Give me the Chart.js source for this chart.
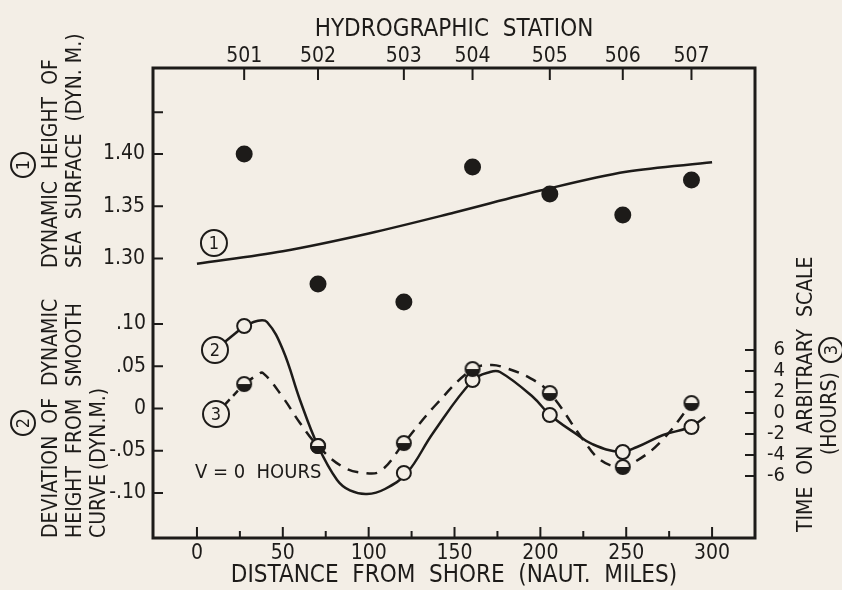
<!DOCTYPE html>
<html><head><meta charset="utf-8">
<script src="https://cdn.jsdelivr.net/npm/chart.js@4/dist/chart.umd.min.js"></script>
<style>html,body{margin:0;padding:0;background:#f3eee6;}#wrap{width:842px;height:590px;}</style>
</head><body><div id="wrap"><canvas id="c" width="842" height="590"></canvas></div>
<script>
// ---- data ----
const stations = ['501','502','503','504','505','506','507'];
const stationDistance = [27.5, 70.5, 120.5, 160.5, 205.5, 248, 288];
// (1) dynamic height of sea surface at the stations
const dynamicHeight = [1.400, 1.2756, 1.2584, 1.3876, 1.3617, 1.3416, 1.3751];
// (1) smooth curve
const smoothDistance = [0, 50, 100, 150, 200, 250, 300];
const smoothHeight = [1.295, 1.307, 1.324, 1.344, 1.365, 1.383, 1.392];
// (2) deviation from smooth curve at the stations
const deviation = [0.0976, -0.0444, -0.0763, 0.0337, -0.0077, -0.0515, -0.0219];
// (2) drawn curve
const devCurveDistance = [28, 35, 40.8, 50.1, 60, 70.5, 81.6, 89.1, 99, 109.5, 122.3, 137.5, 160.8, 170.7, 176.5, 195.7, 205.6, 220, 230, 246.4, 256.3, 271.5, 287.2, 296];
const devCurveValue = [0.0976, 0.1036, 0.1024, 0.0692, 0.0101, -0.0444, -0.0846, -0.0970, -0.1012, -0.0953, -0.0763, -0.029, 0.0337, 0.0432, 0.0432, 0.0136, -0.0077, -0.0290, -0.0420, -0.0515, -0.0456, -0.0314, -0.0219, -0.0101];
// (3) time on arbitrary scale at the stations
const timeHours = [2.76, -3.14, -2.86, 4.19, 1.90, -5.14, 0.95];
// (3) drawn dashed curve
const timeCurveDistance = [27.5, 35, 38.5, 50, 60, 70.5, 85, 97, 107, 120.5, 139, 160.5, 171, 178, 194, 205.5, 225, 235, 246, 254, 270, 288, 292];
const timeCurveHours = [2.76, 3.6, 3.8, 1.5, -0.95, -3.14, -5.14, -5.71, -5.52, -2.86, 0.76, 4.19, 4.57, 4.38, 3.33, 1.90, -2.57, -4.48, -5.14, -4.76, -2.76, 0.95, 2.0];
// ticks
const distanceTicks = [0, 50, 100, 150, 200, 250, 300];
const distanceMinorTicks = [25, 75, 125, 175, 225, 275];
const heightTicks = [1.30, 1.35, 1.40];
const heightTickLabels = ['1.30', '1.35', '1.40'];
const heightMinorTicks = [1.44];
const deviationTicks = [0.10, 0.05, 0, -0.05, -0.10];
const deviationTickLabels = ['.10', '.05', '0', '-.05', '-.10'];
const hourTicks = [6, 4, 2, 0, -2, -4, -6];
const hourTickLabels = ['6', '4', '2', '0', '-2', '-4', '-6'];

// ---- styles ----
const INK = '#1d1b19';
const BG = '#f3eee6';
const FAM = "'DejaVu Sans Condensed','DejaVu Sans',sans-serif";

function halfFilled(r) {
  const s = Math.ceil(r * 2 + 4);
  const cv = document.createElement('canvas');
  cv.width = s; cv.height = s;
  const g = cv.getContext('2d');
  const c = s / 2;
  g.fillStyle = BG;
  g.beginPath(); g.arc(c, c, r, 0, Math.PI * 2); g.fill();
  g.fillStyle = INK;
  g.beginPath(); g.arc(c, c, r, 0, Math.PI); g.closePath(); g.fill();
  g.strokeStyle = INK; g.lineWidth = 2;
  g.beginPath(); g.arc(c, c, r, 0, Math.PI * 2); g.stroke();
  return cv;
}

const pts = (xs, ys) => xs.map((x, i) => ({x: x, y: ys[i]}));

const annotations = {
  circled: [
    {text: '1', x: 9.9, y: 1.3148, axis: 'y1'},
    {text: '2', x: 10.5, y: 0.0692, axis: 'y2', leaderTo: 0, leaderAxis: 'y2', leaderData: deviation, dash: []},
    {text: '3', x: 11.1, y: -0.1, axis: 'y3', leaderTo: 0, leaderAxis: 'y3', leaderData: timeHours, dash: [7, 5]}
  ],
  text: [{text: 'V = 0  HOURS', x: -1.2, y: -5.7, axis: 'y3'}]
};

function rotText(ctx, text, x, y, font) {
  ctx.save();
  ctx.translate(x, y);
  ctx.rotate(-Math.PI / 2);
  ctx.font = font;
  ctx.textAlign = 'left';
  ctx.textBaseline = 'middle';
  ctx.fillText(text, 0, 0);
  ctx.restore();
}
function circled(ctx, text, x, y, r, rotate) {
  ctx.save();
  ctx.translate(x, y);
  if (rotate) ctx.rotate(-Math.PI / 2);
  ctx.lineWidth = 2;
  ctx.strokeStyle = INK;
  ctx.beginPath(); ctx.arc(0, 0, r, 0, Math.PI * 2); ctx.stroke();
  ctx.font = "18px " + FAM;
  ctx.textAlign = 'center'; ctx.textBaseline = 'middle';
  ctx.fillText(text, 0, 1);
  ctx.restore();
}

const decor = {
  id: 'decor',
  beforeDraw(chart) {
    const ctx = chart.ctx;
    ctx.save(); ctx.fillStyle = BG; ctx.fillRect(0, 0, chart.width, chart.height); ctx.restore();
  },
  afterDraw(chart) {
    const ctx = chart.ctx;
    const a = chart.chartArea;
    const s = chart.scales;
    ctx.save();
    ctx.strokeStyle = INK; ctx.fillStyle = INK;
    // frame
    ctx.lineWidth = 3;
    ctx.strokeRect(a.left, a.top, a.right - a.left, a.bottom - a.top);
    // inward ticks
    ctx.lineWidth = 2;
    ctx.beginPath();
    s.x.ticks.forEach(t => {
      const p = s.x.getPixelForValue(t.value);
      const len = distanceTicks.includes(t.value) ? 11 : 7;
      ctx.moveTo(p, a.bottom); ctx.lineTo(p, a.bottom - len);
    });
    s.x2.ticks.forEach(t => {
      const p = s.x2.getPixelForValue(t.value);
      ctx.moveTo(p, a.top); ctx.lineTo(p, a.top + 12);
    });
    ['y1', 'y2'].forEach(id => s[id].ticks.forEach(t => {
      const p = s[id].getPixelForValue(t.value);
      ctx.moveTo(a.left, p); ctx.lineTo(a.left + 10, p);
    }));
    s.y3.ticks.forEach(t => {
      const p = s.y3.getPixelForValue(t.value);
      ctx.moveTo(a.right, p); ctx.lineTo(a.right - 10, p);
    });
    ctx.stroke();

    // rotated axis titles
    const f = "21px " + FAM;
    circled(ctx, '1', 23, 165, 12, true);
    rotText(ctx, 'DYNAMIC  HEIGHT  OF', 52, 268, f);
    rotText(ctx, 'SEA  SURFACE  (DYN. M.)', 76, 268, f);
    circled(ctx, '2', 23, 423, 12, true);
    rotText(ctx, 'DEVIATION  OF  DYNAMIC', 52, 538, f);
    rotText(ctx, 'HEIGHT  FROM  SMOOTH', 76, 538, f);
    rotText(ctx, 'CURVE', 100, 538, f);
    rotText(ctx, '(DYN.M.)', 100, 470, f);
    rotText(ctx, 'TIME  ON  ARBITRARY  SCALE', 807, 532, f);
    rotText(ctx, '(HOURS)', 831, 455, f);
    circled(ctx, '3', 831, 350, 12, true);

    // in-plot labels
    annotations.circled.forEach(c => {
      const cx = s.x.getPixelForValue(c.x), cy = s[c.axis].getPixelForValue(c.y);
      circled(ctx, c.text, cx, cy, 13, false);
      if (c.leaderData) {
        const tx = s.x.getPixelForValue(stationDistance[c.leaderTo]);
        const ty = s[c.leaderAxis].getPixelForValue(c.leaderData[c.leaderTo]);
        const dx = tx - cx, dy = ty - cy, d = Math.hypot(dx, dy);
        ctx.save();
        ctx.lineWidth = 2.5; ctx.setLineDash(c.dash);
        ctx.beginPath();
        ctx.moveTo(cx + dx / d * 13, cy + dy / d * 13);
        ctx.lineTo(tx - dx / d * 7, ty - dy / d * 7);
        ctx.stroke();
        ctx.restore();
      }
    });
    annotations.text.forEach(t => {
      ctx.font = "20px " + FAM;
      ctx.textAlign = 'left'; ctx.textBaseline = 'middle';
      ctx.fillText(t.text, s.x.getPixelForValue(t.x), s[t.axis].getPixelForValue(t.y));
    });
    ctx.restore();
  }
};

const tickFont = {family: FAM, size: 21, lineHeight: 1};
const noGrid = {display: false, drawTicks: false};

new Chart(document.getElementById('c'), {
  data: {
    datasets: [
      {type: 'line', data: pts(stationDistance, timeHours), xAxisID: 'x', yAxisID: 'y3', showLine: false,
        pointStyle: halfFilled(7), pointRadius: 7},
      {type: 'line', data: pts(stationDistance, deviation), xAxisID: 'x', yAxisID: 'y2', showLine: false,
        pointStyle: 'circle', pointRadius: 7, pointBorderWidth: 2, pointBorderColor: INK, pointBackgroundColor: BG},
      {type: 'line', data: pts(stationDistance, dynamicHeight), xAxisID: 'x', yAxisID: 'y1', showLine: false,
        pointStyle: 'circle', pointRadius: 8.5, pointBorderWidth: 0, pointBackgroundColor: INK},
      {type: 'line', data: pts(timeCurveDistance, timeCurveHours), xAxisID: 'x', yAxisID: 'y3',
        borderColor: INK, borderWidth: 2.5, borderDash: [11, 8], pointRadius: 0, tension: 0.4, fill: false},
      {type: 'line', data: pts(devCurveDistance, devCurveValue), xAxisID: 'x', yAxisID: 'y2',
        borderColor: INK, borderWidth: 2.5, pointRadius: 0, tension: 0.4, fill: false},
      {type: 'line', data: pts(smoothDistance, smoothHeight), xAxisID: 'x', yAxisID: 'y1',
        borderColor: INK, borderWidth: 2.5, pointRadius: 0, cubicInterpolationMode: 'monotone', fill: false}
    ]
  },
  options: {
    responsive: false, animation: false, devicePixelRatio: 1,
    layout: {padding: {left: 0, top: 0, bottom: 0, right: 57}},
    plugins: {legend: {display: false}, tooltip: {enabled: false}},
    scales: {
      x: {type: 'linear', position: 'bottom', min: -25.6, max: 325,
        grid: noGrid, border: {display: false},
        afterBuildTicks: sc => { sc.ticks = distanceTicks.concat(distanceMinorTicks).sort((p, q) => p - q).map(v => ({value: v})); },
        afterFit: sc => { sc.height = 52; },
        ticks: {autoSkip: false, maxRotation: 0, color: INK, font: tickFont, padding: 5,
          callback: v => distanceTicks.includes(v) ? String(v) : ''},
        title: {display: true, text: 'DISTANCE  FROM  SHORE  (NAUT.  MILES)', color: INK,
          font: {family: FAM, size: 24, lineHeight: 1}, padding: {top: 0, bottom: 2}}
      },
      x2: {type: 'linear', position: 'top', min: -25.6, max: 325,
        grid: noGrid, border: {display: false},
        afterBuildTicks: sc => { sc.ticks = stationDistance.map(v => ({value: v})); },
        afterFit: sc => { sc.height = 68; },
        ticks: {autoSkip: false, maxRotation: 0, color: INK, font: tickFont, padding: 1,
          callback: v => stations[stationDistance.indexOf(v)]},
        title: {display: true, text: 'HYDROGRAPHIC  STATION', color: INK,
          font: {family: FAM, size: 24, lineHeight: 1}, padding: {top: 18, bottom: 0}}
      },
      y1: {type: 'linear', position: 'left', weight: 1, min: 1.0325, max: 1.4823,
        grid: noGrid, border: {display: false},
        afterBuildTicks: sc => { sc.ticks = heightTicks.concat(heightMinorTicks).map(v => ({value: v})); },
        afterFit: sc => { sc.width = 153; },
        ticks: {autoSkip: false, color: INK, font: tickFont, padding: 8,
          callback: v => { const i = heightTicks.indexOf(v); return i >= 0 ? heightTickLabels[i] : ''; }}
      },
      y2: {type: 'linear', position: 'left', weight: 0, min: -0.1533, max: 0.403,
        grid: noGrid, border: {display: false},
        afterBuildTicks: sc => { sc.ticks = deviationTicks.map(v => ({value: v})); },
        afterFit: sc => { sc.width = 0; sc._computeLabelArea = () => null; },
        ticks: {autoSkip: false, color: INK, font: tickFont, padding: 7,
          callback: v => deviationTickLabels[deviationTicks.indexOf(v)]}
      },
      y3: {type: 'linear', position: 'right', min: -11.905, max: 32.857,
        grid: noGrid, border: {display: false},
        afterBuildTicks: sc => { sc.ticks = hourTicks.map(v => ({value: v})); },
        afterFit: sc => { sc.width = 30; },
        ticks: {autoSkip: false, color: INK, font: {family: FAM, size: 20, lineHeight: 1}, padding: 8, crossAlign: 'far',
          callback: v => hourTickLabels[hourTicks.indexOf(v)]}
      }
    }
  },
  plugins: [decor]
});
</script>
</body></html>
